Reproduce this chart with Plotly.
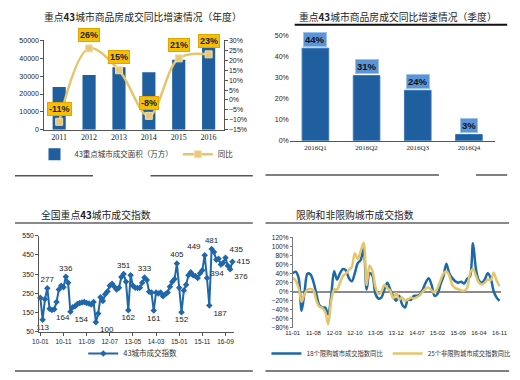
import plotly.graph_objects as go

# page body has an 8px default margin; figure sized so it fills the 520x380 window
OFF = 8
W, H = 520 - OFF, 380 - OFF

# ---------- Panel 1: yearly ----------
years = ["2011", "2012", "2013", "2014", "2015", "2016"]
area = [24000, 30600, 35000, 32200, 39200, 46000]
yoy = [-11, 26, 15, -8, 21, 23]

# ---------- Panel 2: quarterly ----------
quarters = ["2016Q1", "2016Q2", "2016Q3", "2016Q4"]
q_yoy = [44, 31, 24, 3]

# ---------- Panel 3: monthly index 2010-01 .. 2016-12 ----------
idx_values = [228, 113, 220, 277, 170, 164, 168, 205, 270, 290,
              282, 336, 305, 154, 178, 183, 195, 200, 203, 205,
              200, 197, 192, 205, 100, 145, 230, 210, 245, 260,
              290, 300, 285, 270, 280, 335, 351, 310, 162, 345,
              290, 280, 278, 280, 305, 333, 320, 258, 255, 161,
              255, 250, 255, 235, 245, 255, 285, 310, 325, 405,
              280, 152, 265, 295, 345, 360, 345, 340, 330, 355,
              370, 449, 330, 187, 481, 465, 425, 430, 400, 410,
              435, 394, 376, 415]
idx_labels = {1: ("113", "bottom center"), 3: ("277", "top center"),
              5: ("164", "bottom right"), 11: ("336", "top center"),
              13: ("154", "bottom right"), 24: ("100", "bottom right"),
              36: ("351", "top center"), 38: ("162", "bottom center"),
              45: ("333", "top center"), 49: ("161", "bottom center"),
              59: ("405", "top center"), 61: ("152", "bottom center"),
              71: ("449", "top left"), 73: ("187", "bottom right"),
              74: ("481", "top center"), 80: ("435", "top right"),
              81: ("394", "bottom left"), 82: ("376", "bottom right"),
              83: ("415", "middle right")}
idx_ticks = [0, 10, 20, 30, 40, 50, 60, 70, 80]
idx_ticktext = ["10-01", "10-11", "11-09", "12-07", "13-05", "14-03", "15-01", "15-11", "16-09"]

# ---------- Panel 4: limited vs non-limited 2011-01 .. 2016-11 ----------
limited = [41, 44, 30, -42, 0, 40, 38, 22, -5, -30,
           -35, -35, -50, -10, 45, 27, 41, 50, 47, 30,
           23, 41, 63, 70, 95, 5, 41, 35, -5, -15,
           -13, 5, 20, 5, -10, -20, -9, -28, -35, -17,
           -18, -9, -9, -6, 5, 20, 30, 15, -9, -5,
           16, 34, 62, 40, 30, 23, 20, 22, 18, 28,
           34, 107, 50, 25, 20, 27, 41, 30, 1, -13, -20]
nonlimited = [30, 25, 8, -22, -5, 5, 6, 3, -20, -33,
              -36, -45, -72, -20, 5, 5, 20, 35, 40, 48,
              55, 85, 72, 90, 108, 15, 58, 45, 10, -5,
              0, 15, 8, 2, -15, -3, -17, -13, -20, -17,
              -13, -15, -12, -8, 0, 7, 9, 3, -2, 8,
              25, 40, 45, 35, 15, 8, 6, 3, 2, 8,
              40, 50, 35, 20, 16, 20, 27, 25, 42, 25, 12]
lim_ticks = [0, 7, 14, 21, 28, 35, 42, 49, 56, 63, 70]
lim_ticktext = ["11-01", "11-08", "12-03", "12-10", "13-05", "13-12",
                "14-07", "15-02", "15-09", "16-04", "16-11"]

BLUE = "#1f5f9f"
GOLD = "#e6c46a"
CJK = "Noto Sans CJK SC"
SANS = "Liberation Sans"
SERIF = "Liberation Serif"

def px(x):
    return (x - OFF) / W

def py(y):
    return 1 - (y - OFF) / H

xy = list(range(len(years)))
xq = list(range(len(quarters)))

fig = go.Figure()

# Panel 1 traces
fig.add_trace(go.Bar(x=xy, y=area, name="43重点城市成交面积（万方）",
                     marker=dict(color=BLUE, line=dict(width=0)), width=0.44,
                     xaxis="x", yaxis="y", legend="legend"))
fig.add_trace(go.Scatter(x=xy, y=[v / 100 for v in yoy], name="同比",
                         mode="lines+markers",
                         line=dict(color=GOLD, width=2.5, shape="spline", smoothing=1.0),
                         marker=dict(symbol="square", size=7, color="#e8c97a",
                                     line=dict(color="#f3dfa8", width=1)),
                         xaxis="x", yaxis="y2", legend="legend"))

# Panel 2
fig.add_trace(go.Bar(x=xq, y=[v / 100 for v in q_yoy], showlegend=False,
                     marker=dict(color=BLUE, line=dict(color="#3b78b8", width=1)), width=0.52,
                     xaxis="x2", yaxis="y3"))

# Panel 3
n3 = len(idx_values)
texts = [idx_labels[i][0] if i in idx_labels else "" for i in range(n3)]
tpos = [idx_labels[i][1] if i in idx_labels else "top center" for i in range(n3)]
fig.add_trace(go.Scatter(x=list(range(n3)), y=idx_values, name="43城市成交指数",
                         mode="lines+markers+text", text=texts, textposition=tpos,
                         textfont=dict(family=SANS, size=8, color="#222"),
                         line=dict(color="#2067aa", width=2),
                         marker=dict(symbol="diamond", size=5, color="#2067aa"),
                         xaxis="x3", yaxis="y4", legend="legend3", cliponaxis=False))

# Panel 4
fig.add_trace(go.Scatter(x=list(range(len(limited))), y=[v / 100 for v in limited],
                         name="18个限购城市成交指数同比", mode="lines",
                         line=dict(color="#1d69a8", width=2.5, shape="spline", smoothing=0.9),
                         xaxis="x4", yaxis="y5", legend="legend4"))
fig.add_trace(go.Scatter(x=list(range(len(nonlimited))), y=[v / 100 for v in nonlimited],
                         name="25个非限购城市成交指数同比", mode="lines",
                         line=dict(color=GOLD, width=2.5, shape="spline", smoothing=0.9),
                         xaxis="x4", yaxis="y5", legend="legend4"))

tickf = dict(family=SANS, size=7, color="#222")
axis_line = dict(showline=True, linecolor="#555", linewidth=1)

layout = dict(
    width=W, height=H, margin=dict(l=0, r=0, t=0, b=0),
    paper_bgcolor="white", plot_bgcolor="white", showlegend=True,
    # panel 1
    xaxis=dict(domain=[px(38), px(222)], anchor="y", range=[-0.5, 5.5],
               tickvals=xy, ticktext=years, tickangle=0,
               tickfont=dict(family=SERIF, size=8, color="#222"), ticks="",
               showgrid=False, zeroline=False, **axis_line),
    yaxis=dict(domain=[py(128), py(37)], anchor="x", range=[0, 50000],
               tickvals=[0, 10000, 20000, 30000, 40000, 50000], tickformat="d",
               tickfont=tickf, ticks="outside", ticklen=3, tickcolor="#555",
               showgrid=False, zeroline=False, **axis_line),
    yaxis2=dict(overlaying="y", side="right", anchor="x", range=[-0.15, 0.30],
                tickvals=[-0.15, -0.10, -0.05, 0, 0.05, 0.10, 0.15, 0.20, 0.25, 0.30],
                tickformat=".0%", tickfont=tickf, ticks="outside", ticklen=3,
                tickcolor="#555", showgrid=False, zeroline=False, **axis_line),
    # panel 2
    xaxis2=dict(domain=[px(290), px(500)], anchor="y3", range=[-0.5, 3.5],
                tickvals=xq, ticktext=quarters, tickangle=0,
                tickfont=dict(family=SERIF, size=7, color="#222"), ticks="",
                showgrid=False, zeroline=False, **axis_line),
    yaxis3=dict(domain=[py(139.3), py(32)], anchor="x2", range=[0, 0.5],
                tickvals=[0, 0.1, 0.2, 0.3, 0.4, 0.5], tickformat=".0%",
                tickfont=tickf, showgrid=False, zeroline=False, showline=False),
    # panel 3
    xaxis3=dict(domain=[px(33), px(233)], anchor="y4", range=[-0.42, 83.8],
                tickvals=idx_ticks, ticktext=idx_ticktext, tickangle=0,
                tickfont=dict(family=SANS, size=6.5, color="#222"),
                ticks="outside", ticklen=3, tickcolor="#555", showgrid=False,
                zeroline=False, **axis_line),
    yaxis4=dict(domain=[py(334), py(236)], anchor="x3", range=[50, 550],
                tickvals=[50, 150, 250, 350, 450, 550], tickfont=tickf,
                ticks="outside", ticklen=3, tickcolor="#555", showgrid=False,
                zeroline=False, **axis_line),
    # panel 4
    xaxis4=dict(domain=[px(293), px(507)], anchor="y5", range=[0, 70.6],
                tickvals=lim_ticks, ticktext=lim_ticktext, tickangle=0,
                tickfont=dict(family=SANS, size=6, color="#222"),
                ticks="", showgrid=False, zeroline=False, showline=False),
    yaxis5=dict(domain=[py(330), py(237.7)], anchor="x4", range=[-0.8, 1.2],
                tickvals=[-0.8, -0.6, -0.4, -0.2, 0, 0.2, 0.4, 0.6, 0.8, 1.0, 1.2],
                tickformat=".0%", tickfont=dict(family=SANS, size=6.5, color="#222"),
                ticks="outside", ticklen=2, tickcolor="#777", showgrid=False,
                zeroline=True, zerolinecolor="#8a8a8a", zerolinewidth=1.5,
                showline=True, linecolor="#777", linewidth=1),
    legend=dict(orientation="h", x=px(28), y=py(153), xanchor="left", yanchor="middle",
                font=dict(family=CJK, size=7.5, color="#333"), bgcolor="rgba(0,0,0,0)",
                itemwidth=30, tracegroupgap=0),
    legend3=dict(orientation="h", x=px(78), y=py(356), xanchor="left", yanchor="middle",
                 font=dict(family=CJK, size=7.5, color="#333"), bgcolor="rgba(0,0,0,0)",
                 itemwidth=30),
    legend4=dict(orientation="h", x=px(266), y=py(356), xanchor="left", yanchor="middle",
                 font=dict(family=CJK, size=6.3, color="#333"), bgcolor="rgba(0,0,0,0)",
                 itemwidth=30),
)
fig.update_layout(**layout)

TF = dict(family=CJK, size=9.8, color="#222")
ann = []
# titles
ann.append(dict(text="重点<b>43</b>城市商品房成交同比增速情况（年度）", x=px(139), y=py(13),
                xref="paper", yref="paper", xanchor="center", yanchor="middle",
                showarrow=False, font=TF))
ann.append(dict(text="重点<b>43</b>城市商品房成交同比增速情况（季度）", x=px(401), y=py(13),
                xref="paper", yref="paper", xanchor="center", yanchor="middle",
                showarrow=False, font=TF))
ann.append(dict(text="全国重点<b>43</b>城市成交指数", x=px(33), y=py(215), xanchor="left",
                yanchor="middle", xref="paper", yref="paper", showarrow=False, font=TF))
ann.append(dict(text="限购和非限购城市成交指数", x=px(294), y=py(215), xanchor="left",
                yanchor="middle", xref="paper", yref="paper", showarrow=False, font=TF))
# yearly yoy boxes
for i, v in zip(xy, yoy):
    ann.append(dict(text="<b>%d%%</b>" % v, x=i, y=v / 100, xref="x", yref="y2",
                    xanchor="center", yanchor="middle",
                    yshift=13, showarrow=False, bgcolor="#f4bf0a", bordercolor="#e3a400",
                    borderwidth=1, borderpad=1,
                    font=dict(family=SANS, size=9, color="#222")))
# quarterly boxes
for i, v in zip(xq, q_yoy):
    ann.append(dict(text="<b>%d%%</b>" % v, x=i, y=v / 100, xref="x2", yref="y3",
                    xanchor="center", yanchor="middle",
                    yshift=9, showarrow=False, bgcolor="#5b95d8", bordercolor="#9cc2ee",
                    borderwidth=1, borderpad=1,
                    font=dict(family=SANS, size=9.5, color="#111")))
fig.update_layout(annotations=ann)

shapes = []
def hline(x0, x1, y, color="#444", width=1.5):
    shapes.append(dict(type="line", xref="paper", yref="paper",
                       x0=max(px(x0), 0), x1=min(px(x1), 1), y0=py(y), y1=py(y),
                       line=dict(color=color, width=width)))
hline(295, 513, 21, "#111", 2)
hline(8, 252, 223, "#8a8a8a", 2)
hline(265, 515, 223, "#8a8a8a", 2)
hline(8, 88, 175, "#555", 1.5)
hline(147, 252, 175, "#555", 1.5)
hline(265, 443, 174, "#555", 1.5)
hline(481, 513, 174, "#555", 1.5)
hline(8, 252, 374, "#555", 1.5)
hline(265, 515, 374, "#555", 1.5)
fig.update_layout(shapes=shapes)

fig.write_html("out.html")
